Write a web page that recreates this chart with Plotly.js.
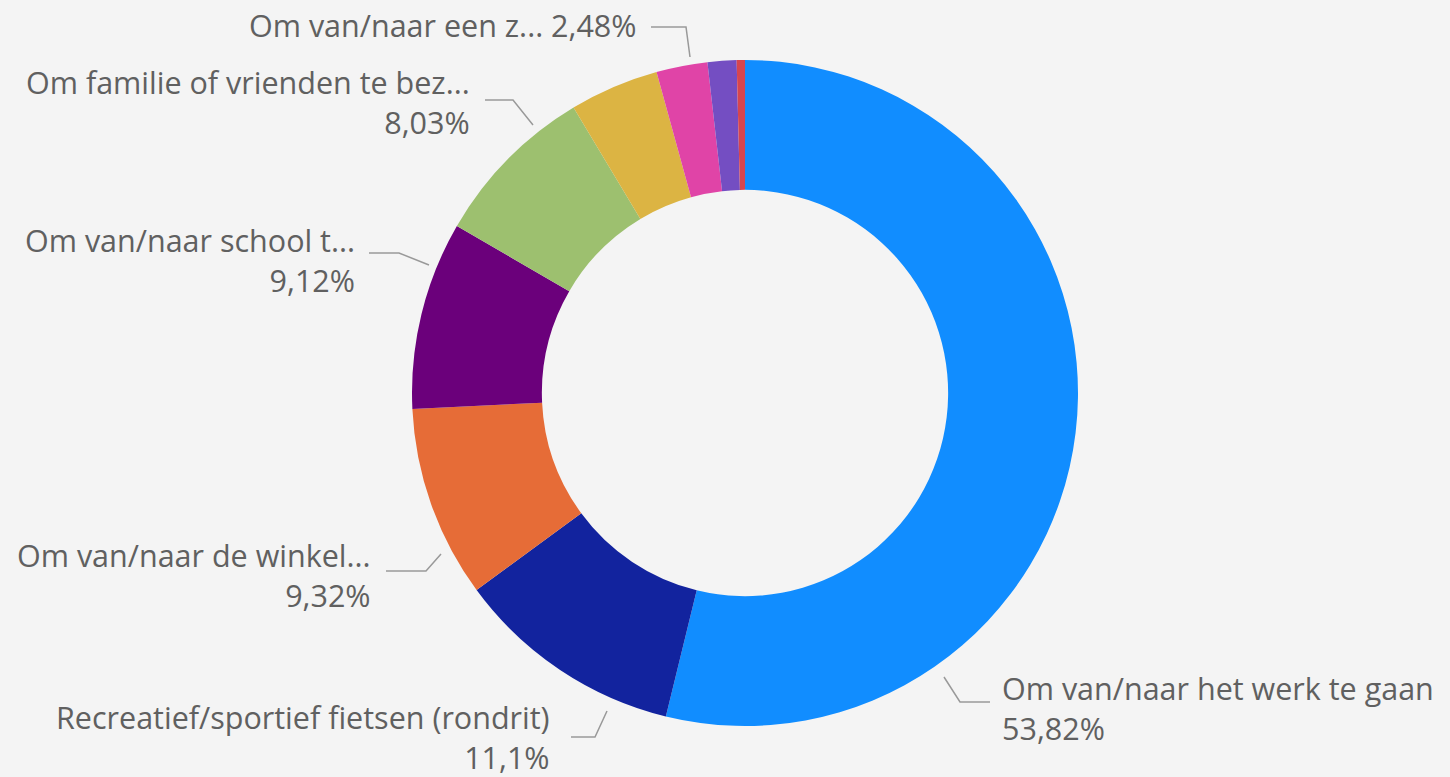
<!DOCTYPE html>
<html>
<head>
<meta charset="utf-8">
<script src="https://cdn.plot.ly/plotly-3.0.1.min.js"></script>
<style>
html,body{margin:0;padding:0;background:#f4f4f4;}
#chart{width:1450px;height:777px;}
</style>
</head>
<body>
<div id="chart"></div>
<script>
// ---- data ----
const categories = [
  "Om van/naar het werk te gaan",
  "Recreatief/sportief fietsen (rondrit)",
  "Om van/naar de winkel...",
  "Om van/naar school t...",
  "Om familie of vrienden te bez...",
  "Overige",
  "Om van/naar een z...",
  "Anders",
  "Onbekend"
];
const values = [53.82, 11.1, 9.32, 9.12, 8.03, 4.33, 2.48, 1.4, 0.4];
const valueLabels = ["53,82%", "11,1%", "9,32%", "9,12%", "8,03%", "", "2,48%", "", ""];
const colors = ["#118DFF", "#12239E", "#E66C37", "#6B007B", "#9DC06F", "#DCB443", "#E044A7", "#744EC2", "#D64550"];

// ---- layout helpers (pixel -> paper) ----
const W = 1450, H = 777;
const px = x => x / W;
const py = y => 1 - y / H;

const trace = {
  type: "pie",
  labels: categories,
  values: values,
  sort: false,
  direction: "clockwise",
  rotation: 0,
  hole: 0.61,
  textinfo: "none",
  marker: {colors: colors, line: {width: 0}},
  domain: {x: [px(412), px(1078)], y: [py(726), py(60)]},
  showlegend: false,
  hovertemplate: "%{label}<br>%{percent}<extra></extra>"
};

// label placement (layout only): index, anchor side, x, y(center), leader polyline
const labelSpec = [
  {i: 0, side: "left",  x: 1001, y: 708, oneLine: false, line: [[944,677],[960,702],[990,702]]},
  {i: 1, side: "right", x: 551,  y: 737, oneLine: false, line: [[607,711],[595,737],[571,737]]},
  {i: 2, side: "right", x: 372,  y: 575, oneLine: false, line: [[441,554],[426,571],[386,571]]},
  {i: 3, side: "right", x: 356,  y: 260, oneLine: false, line: [[429,265],[399,253],[369,253]]},
  {i: 4, side: "right", x: 471,  y: 102, oneLine: false, line: [[533,125],[513,100],[485,100]]},
  {i: 6, side: "right", x: 638,  y: 25,  oneLine: true,  line: [[690,57],[686,27],[651,27]]}
];

const fontSpec = {family: "'Segoe UI', 'Open Sans', sans-serif", size: 30.5, color: "#606060"};

const annotations = labelSpec.map(s => ({
  xref: "paper", yref: "paper",
  x: px(s.x), y: py(s.y),
  xanchor: s.side, yanchor: "middle",
  align: s.side,
  showarrow: false,
  borderpad: 0,
  text: s.oneLine ? categories[s.i] + " " + valueLabels[s.i] : categories[s.i] + "<br>" + valueLabels[s.i],
  font: fontSpec
}));

const shapes = labelSpec.map(s => ({
  type: "path", xref: "paper", yref: "paper",
  path: s.line.map((p, k) => (k ? "L" : "M") + px(p[0]) + "," + py(p[1])).join(" "),
  line: {color: "#999999", width: 1.5}
}));

const layout = {
  width: W, height: H,
  margin: {l: 0, r: 0, t: 0, b: 0},
  paper_bgcolor: "#f4f4f4",
  plot_bgcolor: "#f4f4f4",
  annotations: annotations,
  shapes: shapes,
  showlegend: false
};

Plotly.newPlot("chart", [trace], layout, {displayModeBar: false, staticPlot: true});
</script>
</body>
</html>
